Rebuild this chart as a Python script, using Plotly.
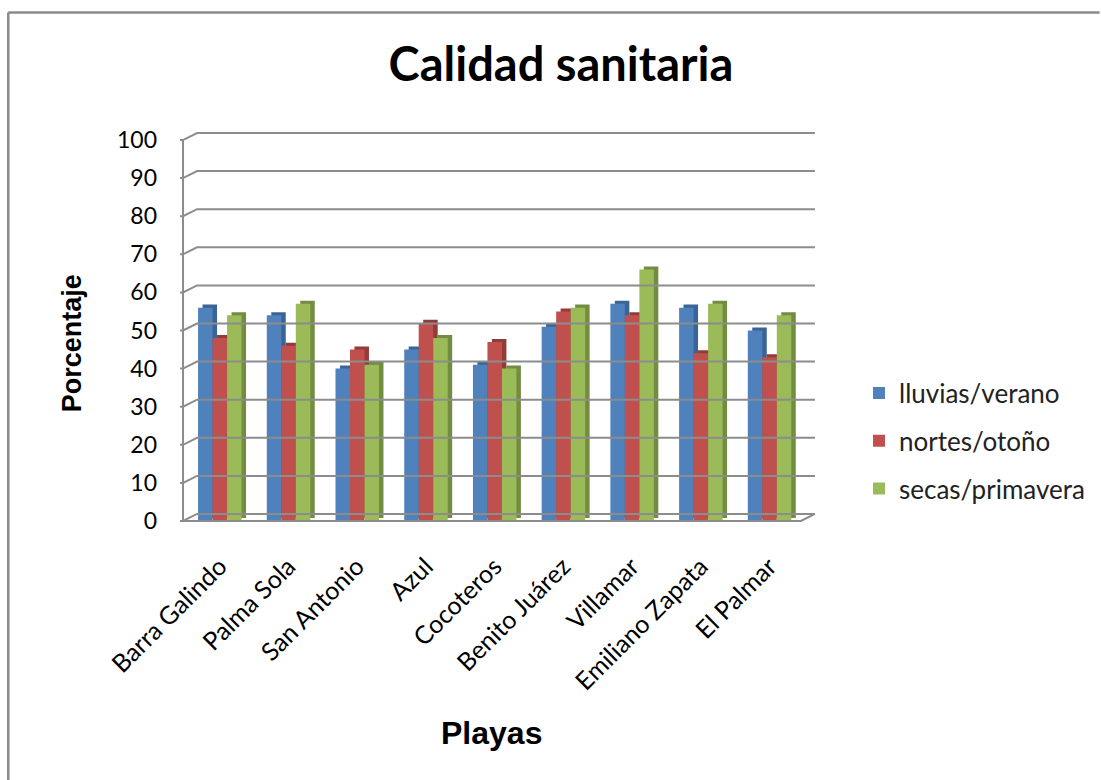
import plotly.graph_objects as go

# ---------------- data ----------------
categories = ["Barra Galindo", "Palma Sola", "San Antonio", "Azul", "Cocoteros",
              "Benito Juárez", "Villamar", "Emiliano Zapata", "El Palmar"]
series_names = ["lluvias/verano", "nortes/otoño", "secas/primavera"]
lluvias_verano = [56, 54, 40, 45, 41, 51, 57, 56, 50]
nortes_otono = [48, 46, 45, 52, 47, 55, 54, 44, 43]
secas_primavera = [54, 57, 41, 48, 40, 56, 66, 57, 54]
y_ticks = [0, 10, 20, 30, 40, 50, 60, 70, 80, 90, 100]

# ---------------- style / geometry ----------------
front_colors = ["#4F81BD", "#C0504D", "#9BBB59"]
side_colors = ["#3A6496", "#933B39", "#728C41"]
grid_color = "#8C8C8C"
FONT = "Lato"

x_front_left = -0.532     # front vertical axis
x_front_right = 8.46      # front floor right end
depth_x = 0.204           # 3D depth offset (x units)
depth_y = 1.84            # 3D depth offset (y units)
tick_len = 0.11
bar_w = 0.211
bar_offsets = [-0.2075, 0.0035, 0.2145]
side_dx = 0.065
top_dy = 0.8

x_range = [-0.576, 8.694]
y_range = [-0.79, 102.63]

fig = go.Figure()

# back-wall gridlines with left-wall diagonals and ticks
gx, gy = [], []
for v in y_ticks:
    gx += [x_front_left - tick_len, x_front_left, x_front_left + depth_x, x_front_right + depth_x, None]
    gy += [v, v, v + depth_y, v + depth_y, None]
# front vertical axis line
gx += [x_front_left, x_front_left, None]
gy += [y_ticks[0], y_ticks[-1], None]
# floor front edge and right diagonal
gx += [x_front_left, x_front_right, x_front_right + depth_x, None]
gy += [y_ticks[0], y_ticks[0], y_ticks[0] + depth_y, None]
fig.add_trace(go.Scatter(x=gx, y=gy, mode="lines", line=dict(color=grid_color, width=2),
                         hoverinfo="skip", showlegend=False))

all_series = [lluvias_verano, nortes_otono, secas_primavera]
for i, (name, vals) in enumerate(zip(series_names, all_series)):
    xs = [k + bar_offsets[i] for k in range(len(categories))]
    # side / top face (3D look)
    fig.add_trace(go.Bar(x=[x + side_dx for x in xs], y=vals, base=top_dy, width=bar_w,
                         marker=dict(color=side_colors[i], line=dict(width=0)),
                         showlegend=False, hoverinfo="skip"))
    fig.add_trace(go.Bar(x=xs, y=vals, width=bar_w, name=name, legendgroup=name,
                         marker=dict(color=front_colors[i], line=dict(width=0))))

W, H = 1101, 780
ml, mr, mt, mb = 180, 283, 130, 256
pw, ph = W - ml - mr, H - mt - mb

def px_to_paper_x(px):
    return (px - ml) / pw

def px_to_paper_y(py):
    return (H - mb - py) / ph

fig.update_layout(
    width=W, height=H,
    margin=dict(l=ml, r=mr, t=mt, b=mb),
    paper_bgcolor="white", plot_bgcolor="white",
    barmode="overlay",
    font=dict(family=FONT, color="#000000"),
    title=dict(text="<b>Calidad sanitaria</b>", x=561 / W, xanchor="center",
               y=1 - 65 / H, yanchor="middle", font=dict(family=FONT, size=47, color="#000")),
    xaxis=dict(range=x_range, tickmode="array", tickvals=list(range(len(categories))),
               ticktext=categories, tickangle=-45, showgrid=False, zeroline=False,
               showline=False, ticks="", tickfont=dict(family=FONT, size=25, color="#000"),
               ticklabelstandoff=22),
    yaxis=dict(range=y_range, tickmode="array", tickvals=y_ticks, showgrid=False,
               zeroline=False, showline=False, ticks="",
               tickfont=dict(family=FONT, size=23, color="#000"), ticklabelstandoff=22),
    legend=dict(x=px_to_paper_x(859), y=px_to_paper_y(441), xanchor="left", yanchor="middle",
                font=dict(family=FONT, size=26, color="#222"), tracegroupgap=11,
                bgcolor="rgba(0,0,0,0)"),
    showlegend=True,
)

fig.add_annotation(text="<b>Porcentaje</b>", xref="paper", yref="paper",
                   x=px_to_paper_x(72), y=px_to_paper_y(343), showarrow=False, textangle=-90,
                   font=dict(family="Liberation Sans", size=27, color="#000"),
                   xanchor="center", yanchor="middle")
fig.add_annotation(text="<b>Playas</b>", xref="paper", yref="paper",
                   x=px_to_paper_x(492), y=px_to_paper_y(733), showarrow=False,
                   font=dict(family="Liberation Sans", size=32, color="#000"),
                   xanchor="center", yanchor="middle")

# chart border (only top and left edges are within the picture)
border = dict(color="#8A8A8A", width=2.5)
fig.add_shape(type="line", xref="paper", yref="paper",
              x0=px_to_paper_x(8), x1=px_to_paper_x(W),
              y0=px_to_paper_y(12.5), y1=px_to_paper_y(12.5), line=border, layer="below")
fig.add_shape(type="line", xref="paper", yref="paper",
              x0=px_to_paper_x(8), x1=px_to_paper_x(8),
              y0=px_to_paper_y(12.5), y1=px_to_paper_y(H), line=border, layer="below")

fig.write_html("out.html")
